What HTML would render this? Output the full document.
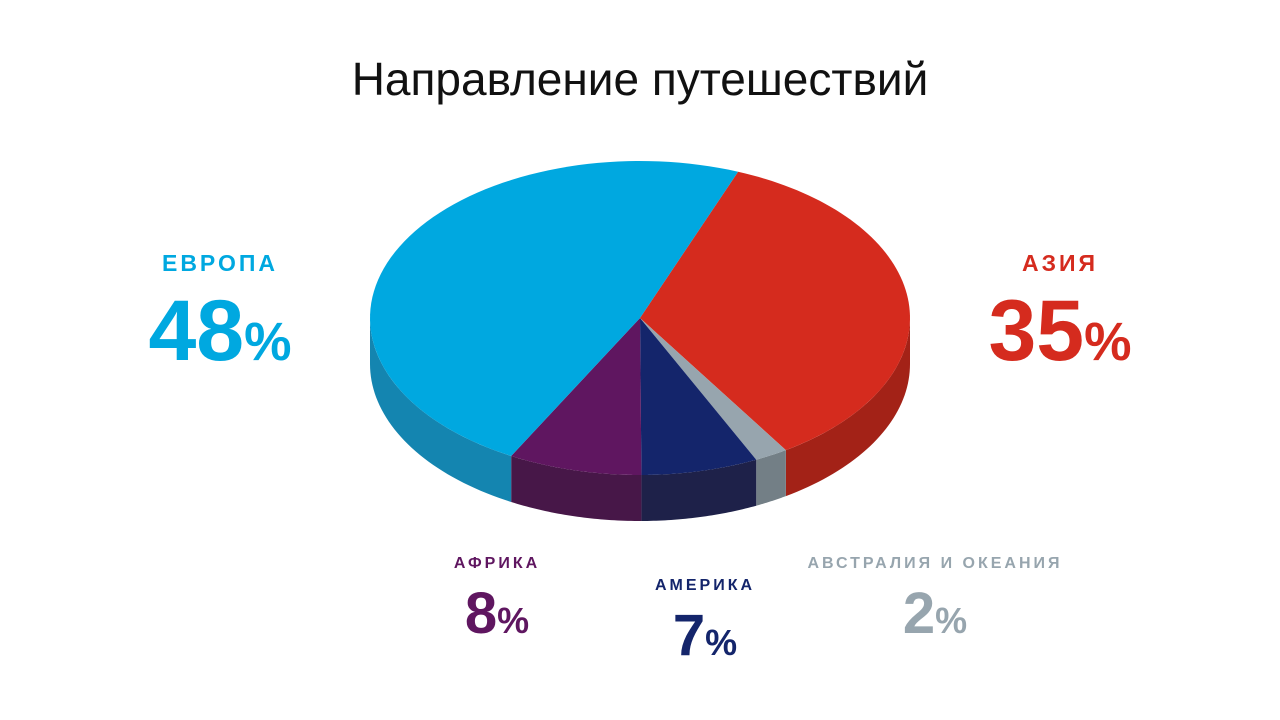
<!DOCTYPE html>
<html><head><meta charset="utf-8"><style>
body{margin:0;width:1280px;height:720px;background:#fff;overflow:hidden;font-family:"Liberation Sans",sans-serif;position:relative}
.t{position:absolute;left:0;width:1280px;top:52px;text-align:center;font-size:46px;font-weight:300;color:#111}
.lab{position:absolute;text-align:center;font-weight:bold;letter-spacing:3px}
.big{position:absolute;text-align:center;font-weight:bold;line-height:1}
.big small{font-size:0.62em}
</style></head><body>
<div class="t">Направление путешествий</div>
<svg id="pie" width="1280" height="720" style="position:absolute;left:0;top:0"></svg>
<div class="lab" style="left:120px;width:200px;top:250px;font-size:23px;color:#00a8e0">ЕВРОПА</div>
<div class="big" style="left:110px;width:220px;top:288px;font-size:86px;color:#00a8e0">48<small>%</small></div>
<div class="lab" style="left:960px;width:200px;top:250px;font-size:23px;color:#d52b1e">АЗИЯ</div>
<div class="big" style="left:950px;width:220px;top:288px;font-size:86px;color:#d52b1e">35<small>%</small></div>
<div class="lab" style="left:397px;width:200px;top:555px;font-size:16px;color:#5f1660">АФРИКА</div>
<div class="big" style="left:397px;width:200px;top:585px;font-size:58px;color:#5f1660">8<small>%</small></div>
<div class="lab" style="left:605px;width:200px;top:577px;font-size:16px;color:#14256b">АМЕРИКА</div>
<div class="big" style="left:605px;width:200px;top:607px;font-size:58px;color:#14256b">7<small>%</small></div>
<div class="lab" style="left:785px;width:300px;top:555px;font-size:16px;color:#97a5ae">АВСТРАЛИЯ И ОКЕАНИЯ</div>
<div class="big" style="left:835px;width:200px;top:585px;font-size:58px;color:#97a5ae">2<small>%</small></div>
<script>
const categories=["Азия","Австралия и Океания","Америка","Африка","Европа"];
const values=[35,2,7,8,48];
const topColors=["#d52b1e","#97a5ae","#14256b","#5f1660","#00a8e0"];
const sideColors=["#a32217","#737f86","#1e2149","#471748","#1485b0"];
const cx=640,cy=318,rx=270,ry=157,depth=46,start=-68.7;
const svg=document.getElementById('pie');const NS="http://www.w3.org/2000/svg";
function pt(a,dy){const r=a*Math.PI/180;return [cx+rx*Math.cos(r),cy+ry*Math.sin(r)+(dy||0)];}
const total=values.reduce((a,b)=>a+b,0);
let angs=[];let a=start;
values.forEach(v=>{const b=a+v/total*360;angs.push([a,b]);a=b;});
// sides
angs.forEach(([a0,a1],i)=>{
  for(const off of [0,360]){
    let s=Math.max(a0-off,0),e=Math.min(a1-off,180);
    if(e<=s) continue;
    let d="";const n=40;
    for(let k=0;k<=n;k++){const p=pt(s+(e-s)*k/n);d+=(k?"L":"M")+p[0]+","+p[1];}
    for(let k=n;k>=0;k--){const p=pt(s+(e-s)*k/n,depth);d+="L"+p[0]+","+p[1];}
    const el=document.createElementNS(NS,'path');el.setAttribute('d',d+"Z");el.setAttribute('fill',sideColors[i]);
    
    
    svg.appendChild(el);
  }
});
angs.forEach(([a0,a1],i)=>{
  let d="M"+cx+","+cy;const n=80;
  for(let k=0;k<=n;k++){const p=pt(a0+(a1-a0)*k/n);d+="L"+p[0]+","+p[1];}
  const el=document.createElementNS(NS,'path');el.setAttribute('d',d+"Z");el.setAttribute('fill',topColors[i]);
  
  
  svg.appendChild(el);
});
</script>
</body></html>
